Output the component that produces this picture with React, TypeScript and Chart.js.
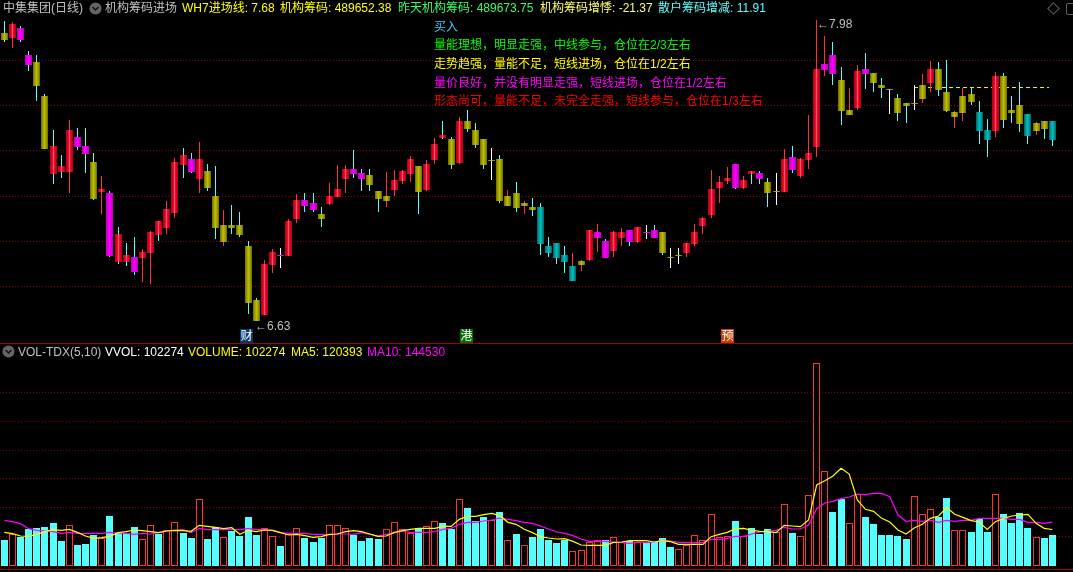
import React, { useEffect, useRef } from "react";
import { Chart, registerables } from "chart.js";

Chart.register(...registerables);

const highs = [7.976,7.971,7.953,7.841,7.823,7.647,7.485,7.373,7.53,7.494,7.494,7.382,7.278,7.211,7.049,6.977,7.004,6.95,7.031,7.076,7.166,7.359,7.404,7.382,7.431,7.332,7.323,7.125,7.148,7.116,6.986,6.729,6.9,6.95,6.954,7.085,7.197,7.202,7.202,7.139,7.246,7.328,7.328,7.395,7.31,7.31,7.211,7.296,7.305,7.305,7.368,7.323,7.35,7.449,7.526,7.454,7.544,7.575,7.517,7.445,7.404,7.373,7.215,7.251,7.166,7.179,7.157,7.004,6.977,6.963,6.932,6.9,7.035,7.062,6.995,7.031,7.044,7.035,7.049,7.058,7.058,7.026,6.954,6.954,6.977,7.062,7.094,7.305,7.278,7.319,7.332,7.278,7.301,7.301,7.269,7.292,7.4,7.413,7.359,7.553,7.98,7.908,7.881,7.769,7.674,7.778,7.832,7.742,7.719,7.67,7.647,7.607,7.688,7.737,7.796,7.791,7.8,7.571,7.674,7.674,7.616,7.535,7.746,7.742,7.638,7.701,7.557,7.521,7.526,7.526];
const lows = [7.881,7.854,7.881,7.751,7.616,7.399,7.242,7.269,7.202,7.395,7.292,7.17,7.107,6.914,6.882,6.873,6.833,6.801,6.792,6.986,7.017,7.089,7.269,7.292,7.202,7.211,6.995,6.963,7.017,7.004,6.657,6.626,6.653,6.841,6.864,6.918,7.067,7.116,7.116,7.049,7.148,7.184,7.202,7.269,7.211,7.211,7.116,7.139,7.188,7.242,7.251,7.107,7.211,7.332,7.445,7.31,7.332,7.476,7.404,7.31,7.26,7.157,7.143,7.116,7.107,7.098,6.923,6.914,6.882,6.841,6.806,6.851,6.896,6.936,6.909,6.914,6.963,6.963,6.977,6.995,6.999,6.923,6.864,6.882,6.914,6.963,7.017,7.089,7.157,7.242,7.22,7.22,7.242,7.242,7.139,7.148,7.206,7.292,7.269,7.31,7.364,7.728,7.688,7.508,7.553,7.575,7.67,7.656,7.629,7.557,7.526,7.517,7.575,7.607,7.656,7.638,7.566,7.494,7.526,7.598,7.422,7.364,7.454,7.494,7.517,7.476,7.422,7.463,7.445,7.413];
const bodyTops = [7.922,7.962,7.944,7.823,7.791,7.638,7.413,7.323,7.485,7.454,7.413,7.341,7.22,7.202,7.017,6.923,6.914,6.936,7.026,7.076,7.13,7.341,7.373,7.355,7.355,7.301,7.188,7.058,7.058,7.058,6.963,6.72,6.882,6.936,6.923,7.076,7.17,7.17,7.157,7.107,7.188,7.22,7.31,7.31,7.292,7.283,7.211,7.188,7.26,7.301,7.355,7.323,7.332,7.422,7.463,7.445,7.526,7.526,7.485,7.445,7.352,7.355,7.188,7.202,7.157,7.139,7.139,6.963,6.977,6.923,6.873,6.896,7.035,7.026,6.986,7.026,7.026,7.035,7.049,7.026,7.035,7.026,6.914,6.923,6.977,7.026,7.089,7.22,7.251,7.269,7.332,7.26,7.301,7.292,7.251,7.211,7.355,7.364,7.355,7.382,7.76,7.782,7.823,7.71,7.575,7.751,7.76,7.742,7.688,7.67,7.629,7.607,7.607,7.688,7.76,7.76,7.656,7.566,7.638,7.647,7.566,7.485,7.728,7.728,7.575,7.598,7.557,7.517,7.526,7.526];
const bodyBottoms = [7.89,7.899,7.89,7.778,7.683,7.399,7.287,7.296,7.296,7.409,7.377,7.175,7.206,6.918,6.891,6.891,6.846,6.909,6.932,7.013,7.044,7.112,7.328,7.296,7.265,7.224,7.044,6.981,7.044,7.013,6.707,6.626,6.653,6.878,6.918,6.918,7.085,7.143,7.125,7.085,7.152,7.184,7.265,7.287,7.265,7.238,7.175,7.166,7.215,7.256,7.287,7.206,7.215,7.35,7.449,7.328,7.337,7.49,7.418,7.328,7.35,7.166,7.143,7.134,7.143,7.125,6.972,6.932,6.909,6.891,6.806,6.878,6.9,6.999,6.909,6.941,6.999,6.981,6.981,7.022,6.999,6.932,6.909,6.918,6.932,6.972,7.053,7.103,7.224,7.256,7.224,7.224,7.287,7.265,7.202,7.206,7.206,7.305,7.278,7.35,7.409,7.755,7.737,7.571,7.553,7.584,7.737,7.697,7.674,7.665,7.562,7.593,7.602,7.625,7.697,7.665,7.571,7.544,7.562,7.611,7.481,7.44,7.481,7.53,7.562,7.512,7.458,7.481,7.49,7.44];
const candleKinds = ("ormmoorrrm" + "mormrrmrrr" + "rrrmrooooo" + "oorrmrrmmo" + "rrrmmooorr" + "rorrrorooo" + "oooooott" + "tt" + "tormmrrmrm" + "mooorrrrrr" + "mrrmoormrr" + "rmmoormooo" + "oooorooooo" + "ttroootoot").split("");
const wickKinds = ("crccccccrc" + "ccrccccrrc" + "rrccrccrcc" + "ccrrwrrccc" + "rrrccccrrr" + "rcrrccrccc" + "wcrcrccccc" + "rrrrcrrcrw" + "ccwwrrrrrr" + "crcccwrcrr" + "rrccrrcccw" + "ccwrrccrrc" + "ccrccccrcc").split("");

const volumes = [85800,104500,95700,122100,125400,128700,141900,82500,134200,69300,72600,102300,91300,165000,108900,108900,128700,88000,134200,105600,117700,144100,108900,92400,220000,89100,128700,94600,115500,99000,161700,102300,124300,97900,66000,104500,124300,92400,79200,92400,134200,134200,124300,102300,82500,92400,89100,121000,144100,121000,108900,124300,130900,147400,141900,122100,220000,191400,148500,161700,150700,178200,84700,105600,68200,95700,122100,85800,75900,85800,48400,51700,79200,84700,85800,94600,78100,81400,79200,74800,79200,92400,62700,55000,68200,101200,84700,170500,96800,97900,148500,99000,125400,105600,122100,112200,203500,108900,97900,233200,668800,312400,178200,221100,140800,237600,161700,138600,102300,102300,99000,89100,229900,170500,187000,161700,224400,117700,117700,112200,155100,112200,236500,171600,141900,174900,125400,95700,92400,102274];
const hollowVolumeBars = [1,8,12,17,18,20,21,24,27,32,33,35,36,40,41,42,47,48,49,50,52,53,56,60,62,64,70,71,72,73,75,76,78,83,84,85,86,87,88,89,91,95,96,98,99,100,101,104,105,112,113,114,117,118,122,127];
const ma5 = [111100,106700,99000,97900,104500,113300,119900,117700,121000,111100,99000,91300,93500,97900,110000,113300,118800,116600,113300,110000,115500,117700,116600,114400,134200,130900,127600,123200,126500,104500,117700,113300,118800,117700,110000,102300,104500,100100,94600,96800,104500,105600,113300,116600,113300,105600,97900,99000,111100,116600,121000,124300,124300,124300,130900,130900,154000,163900,163900,169400,173800,166100,144100,137500,121000,110000,96800,92400,89100,90200,81400,69300,68200,68200,68200,78100,79200,83600,83600,83600,79200,83600,80300,71500,71500,71500,71500,96800,104500,111100,123200,124300,117700,114400,113300,110000,134200,132000,129800,151800,267300,281600,297000,322300,303600,217800,187000,180400,157300,145200,118800,105600,125400,137500,157300,165000,192500,170500,160600,149600,145200,121000,146300,157300,165000,168300,170500,140800,124300,120393];
const ma10 = [150700,146300,139700,123200,117700,115500,113300,107800,111100,107800,107800,107800,107800,111100,108900,107800,104500,107800,105600,110000,115500,117700,119900,110000,124300,119900,119900,119900,119900,119900,124300,119900,119900,117700,110000,107800,107800,107800,104500,104500,103400,105600,105600,104500,110000,104500,99000,104500,108900,115500,110000,111100,111100,113300,121000,124300,137500,144100,144100,148500,151800,158400,154000,149600,144100,140800,132000,122100,112200,107800,100100,89100,81400,81400,81400,79200,77000,74800,79200,77000,79200,84700,82500,78100,78100,77000,78100,88000,88000,91300,97900,97900,105600,112200,114400,117700,127600,122100,122100,135300,189200,207900,213400,222200,227700,237600,235400,239800,239800,228800,168300,147400,150700,147400,150700,144100,150700,147400,150700,150700,157300,157300,157300,157300,154000,154000,144100,144100,140800,144530];

const entryLine = 7.676;
const entryLineRange = [111.98, 128.6];
const priceGridTicks = [7.79775,7.59525,7.39275,7.18575,6.98325,6.78075];
const volumeGridTicks = [572550,476850,381150,288750,193050,97350];

const headerItems = [
  { text: "中集集团(日线)", color: "#c0c0c0", left: 3 },
  { text: "机构筹码进场", color: "#c0c0c0", left: 105 },
  { text: "WH7进场线: 7.68", color: "#ffff00", left: 182 },
  { text: "机构筹码: 489652.38", color: "#ffff00", left: 280 },
  { text: "昨天机构筹码: 489673.75", color: "#33ff66", left: 398 },
  { text: "机构筹码增悸: -21.37", color: "#ffff66", left: 540 },
  { text: "散户筹码增减: 11.91", color: "#55ffff", left: 658 },
];
const volumeHeaderItems = [
  { text: "VOL-TDX(5,10)", color: "#c0c0c0", left: 18 },
  { text: "VVOL: 102274", color: "#ffffff", left: 105 },
  { text: "VOLUME: 102274", color: "#ffff00", left: 188 },
  { text: "MA5: 120393", color: "#ffff00", left: 291 },
  { text: "MA10: 144530", color: "#ff00ff", left: 367 },
];
const signalItems = [
  { text: "买入", color: "#33ccff", top: 20 },
  { text: "量能理想，明显走强，中线参与，仓位在2/3左右", color: "#00ff00", top: 38 },
  { text: "走势趋强，量能不足，短线进场，仓位在1/2左右", color: "#ffff00", top: 57 },
  { text: "量价良好，并没有明显走强，短线进场，仓位在1/2左右", color: "#ff00ff", top: 76 },
  { text: "形态尚可，量能不足，未完全走强，短线参与，仓位在1/3左右", color: "#ff0000", top: 94 },
];
const newsMarks = [
  { text: "财", left: 240, color: "#003a70" },
  { text: "港", left: 460, color: "#007000" },
  { text: "预", left: 721, color: "#c04000" },
];

const bodyLayers: Record<string, string[]> = {
  r: ["#b80018", "#dc0020", "#e81028", "#ff5070"],
  o: ["#787800", "#969600", "#aaaa00", "#bcbc00"],
  m: ["#c000c0", "#d800d8", "#ec00ec", "#ff00ff"],
  t: ["#007070", "#009090", "#00a8a8", "#00bcbc"],
};
const wickColors: Record<string, string> = { c: "#55ffff", r: "#ff3232", w: "#ffffff" };

const INDEX = highs.map((_, i) => i);
const xRange = { min: -0.53, max: 131.55 };

const snapBars = {
  id: "snapBars",
  beforeDatasetsDraw(chart: any) {
    chart.getSortedVisibleDatasetMetas().forEach((meta: any) => {
      if (meta.type !== "bar") return;
      meta.data.forEach((el: any) => {
        el.x = Math.floor(el.x) + 0.5;
        const top = Math.round(Math.min(el.y, el.base));
        let bottom = Math.round(Math.max(el.y, el.base));
        if (bottom - top < 1) bottom = top + 1;
        el.y = top;
        el.base = bottom;
        el.height = bottom - top;
      });
    });
  },
};

const gridAxis = (min: number, max: number, ticks: number[]) => ({
  display: true,
  min,
  max,
  afterBuildTicks: (scale: any) => {
    scale.ticks = ticks.map((value) => ({ value }));
  },
  ticks: { display: false },
  grid: { color: "#8c0000", lineWidth: 1, drawTicks: false },
  border: { display: false, dash: [1, 2] },
});

const baseOptions = {
  responsive: false,
  animation: false as const,
  events: [] as string[],
  layout: { padding: 0 },
  plugins: { legend: { display: false }, tooltip: { enabled: false } },
};

const textStyle: React.CSSProperties = {
  position: "absolute",
  whiteSpace: "pre",
  font: '12px/14px "Liberation Sans", "Noto Sans CJK SC", sans-serif',
};

function ChevronIcon({ left, top }: { left: number; top: number }) {
  return (
    <svg width="13" height="13" style={{ position: "absolute", left, top }}>
      <circle cx="6.5" cy="6.5" r="6" fill="#666666" />
      <path d="M3.5 5 L6.5 8 L9.5 5" stroke="#111111" strokeWidth="1.5" fill="none" />
    </svg>
  );
}

export default function App() {
  const priceRef = useRef<HTMLCanvasElement>(null);
  const volumeRef = useRef<HTMLCanvasElement>(null);

  useEffect(() => {
    document.body.style.margin = "0";
    document.body.style.background = "#000";

    const bodyPoints = INDEX.map((i) => ({ x: i, y: [bodyBottoms[i], bodyTops[i]] }));
    const bodyLayer = (layer: number, thickness: number) => ({
      type: "bar" as const,
      data: bodyPoints,
      order: 3 - layer,
      barThickness: thickness,
      grouped: false,
      inflateAmount: 0,
      borderWidth: 0,
      backgroundColor: (c: any) => bodyLayers[candleKinds[c.dataIndex]][layer],
    });

    const price = new Chart(priceRef.current!, {
      type: "bar",
      data: {
        datasets: [
          bodyLayer(3, 1),
          bodyLayer(2, 3),
          bodyLayer(1, 5),
          bodyLayer(0, 7),
          {
            type: "bar",
            data: INDEX.map((i) => ({ x: i, y: [lows[i], highs[i]] })),
            order: 4,
            barThickness: 1,
            grouped: false,
            inflateAmount: 0,
            borderWidth: 0,
            backgroundColor: (c: any) => wickColors[wickKinds[c.dataIndex]],
          },
          {
            type: "line",
            data: entryLineRange.map((x) => ({ x, y: entryLine })),
            order: 5,
            borderColor: "#ffff00",
            borderWidth: 1,
            borderDash: [4, 3],
            pointRadius: 0,
          },
        ] as any,
      },
      options: {
        ...baseOptions,
        scales: {
          x: { type: "linear", display: false, offset: false, ...xRange },
          y: gridAxis(8.07 - 0.0045 * 343, 8.07, priceGridTicks),
        },
      } as any,
      plugins: [snapBars],
    });

    const isHollow = (i: number) => hollowVolumeBars.includes(i);
    const volume = new Chart(volumeRef.current!, {
      type: "bar",
      data: {
        datasets: [
          {
            type: "line",
            data: INDEX.map((i) => ({ x: i, y: ma5[i] })),
            order: 0,
            borderColor: "#ffff00",
            borderWidth: 1.2,
            pointRadius: 0,
            tension: 0,
          },
          {
            type: "line",
            data: INDEX.map((i) => ({ x: i, y: ma10[i] })),
            order: 1,
            borderColor: "#ff00ff",
            borderWidth: 1.2,
            pointRadius: 0,
            tension: 0,
          },
          {
            type: "bar",
            data: INDEX.map((i) => ({ x: i, y: volumes[i] })),
            order: 2,
            barThickness: 7,
            grouped: false,
            inflateAmount: 0,
            borderSkipped: false,
            backgroundColor: (c: any) => (isHollow(c.dataIndex) ? "#000000" : "#55ffff"),
            borderColor: "#ff3232",
            borderWidth: (c: any) => (isHollow(c.dataIndex) ? 1 : 0),
          },
        ] as any,
      },
      options: {
        ...baseOptions,
        scales: {
          x: { type: "linear", display: false, offset: false, ...xRange },
          y: gridAxis(-19800, 732600, volumeGridTicks),
        },
      } as any,
      plugins: [snapBars],
    });

    return () => {
      price.destroy();
      volume.destroy();
    };
  }, []);

  return (
    <div style={{ position: "fixed", left: 0, top: 0, width: 1073, height: 572, background: "#000", overflow: "hidden" }}>
      <canvas ref={priceRef} width={1073} height={343} style={{ position: "absolute", left: 0, top: 0, width: 1073, height: 343 }} />
      <canvas ref={volumeRef} width={1073} height={228} style={{ position: "absolute", left: 0, top: 344, width: 1073, height: 228 }} />
      <div style={{ position: "absolute", left: 0, top: 343, width: 1073, height: 1, background: "#a80000" }} />
      <div style={{ position: "absolute", left: 0, top: 569, width: 1073, height: 1, background: "#a80000" }} />

      {headerItems.map((h) => (
        <span key={h.text} style={{ ...textStyle, left: h.left, top: 1, color: h.color }}>{h.text}</span>
      ))}
      {volumeHeaderItems.map((h) => (
        <span key={h.text} style={{ ...textStyle, left: h.left, top: 345, color: h.color }}>{h.text}</span>
      ))}
      {signalItems.map((s) => (
        <span key={s.text} style={{ ...textStyle, left: 434, top: s.top, color: s.color }}>{s.text}</span>
      ))}
      {newsMarks.map((m) => (
        <span key={m.text} style={{ ...textStyle, left: m.left, top: 329, width: 13, height: 14, textAlign: "center", color: "#ffffff", background: m.color }}>{m.text}</span>
      ))}
      <span style={{ ...textStyle, left: 255, top: 319, color: "#c0c0c0" }}>←6.63</span>
      <span style={{ ...textStyle, left: 817, top: 17, color: "#c0c0c0" }}>←7.98</span>

      <ChevronIcon left={89} top={2} />
      <ChevronIcon left={2} top={345} />
      <div style={{ position: "absolute", left: 1049, top: 4, width: 7, height: 7, border: "1px solid #606060", transform: "rotate(45deg)" }} />
      <div style={{ position: "absolute", left: 1066, top: 3, width: 12, height: 10, border: "1px solid #606060", borderRadius: 2 }} />
    </div>
  );
}
